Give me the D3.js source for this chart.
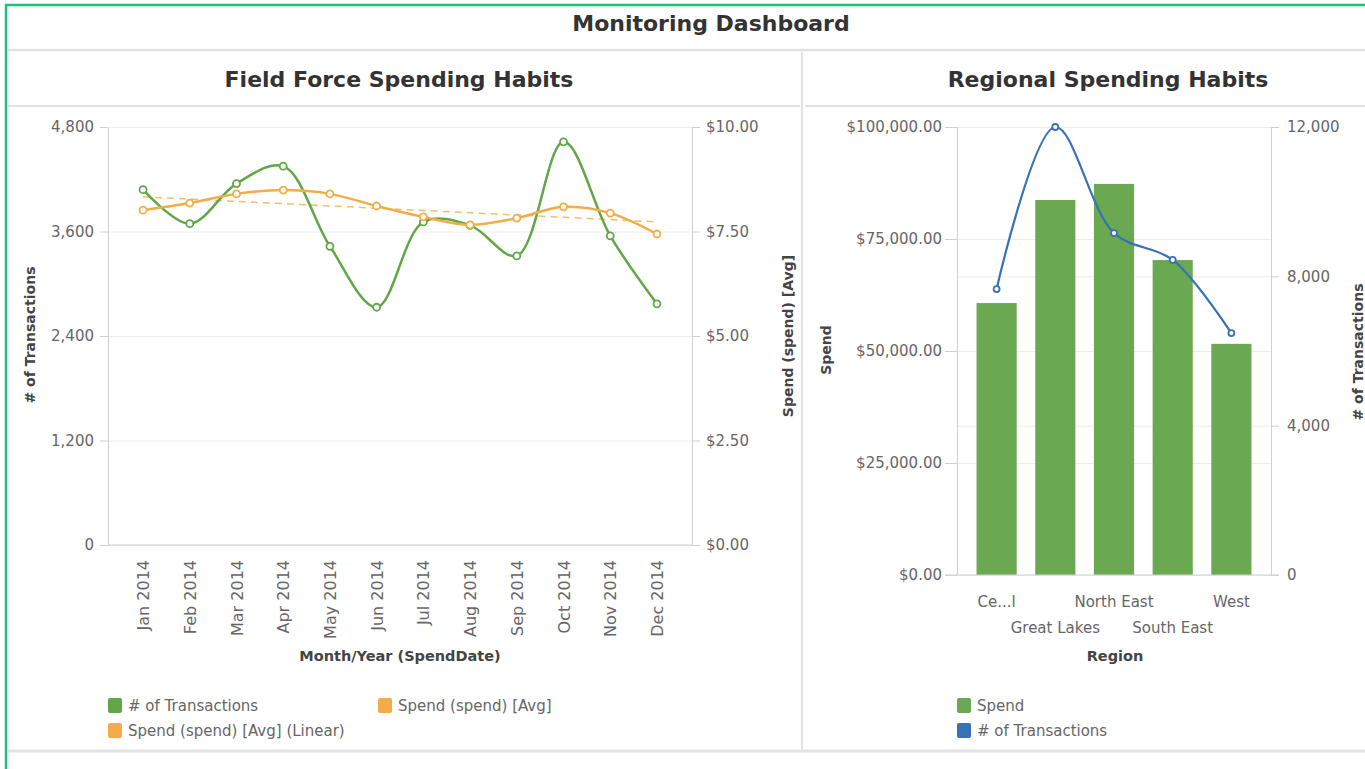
<!DOCTYPE html>
<html>
<head>
<meta charset="utf-8">
<script src="https://cdn.jsdelivr.net/npm/d3@7"></script>
<style>
body { margin: 0; background: #fff; }
text { font-family: "DejaVu Sans", sans-serif; }
.tick line { stroke: #d0d0d0; }
.domain { stroke: #d0d0d0; }
.grid line { stroke: #ececec; }
.grid .domain { display: none; }
</style>
</head>
<body>
<svg id="dash" width="1365" height="769"></svg>
<script>
// field force chart
const months = ['Jan 2014', 'Feb 2014', 'Mar 2014', 'Apr 2014', 'May 2014', 'Jun 2014',
	'Jul 2014', 'Aug 2014', 'Sep 2014', 'Oct 2014', 'Nov 2014', 'Dec 2014'];
const transactions = [4080, 3690, 4150, 4350, 3430, 2730, 3710, 3670, 3320, 4630, 3550, 2770];
const avgSpend = [8.01, 8.18, 8.40, 8.49, 8.40, 8.11, 7.85, 7.66, 7.82, 8.09, 7.94, 7.44];
const avgSpendLinear = [{ month: 'Jan 2014', value: 8.33 }, { month: 'Dec 2014', value: 7.73 }];
const txTicks = [0, 1200, 2400, 3600, 4800];
const spendTicks = [0, 2.5, 5, 7.5, 10];

// regional chart
const regions = ['Ce...l', 'Great Lakes', 'North East', 'South East', 'West'];
const regionSpend = [60700, 83700, 87300, 70300, 51600];
const regionTransactions = [7660, 12000, 9160, 8440, 6480];
const regionSpendTicks = [0, 25000, 50000, 75000, 100000];
const regionTxTicks = [0, 4000, 8000, 12000];

const GREEN = '#62a747', ORANGE = '#f2ac48', BLUE = '#3871b6', BAR = '#6aa951';

const svg = d3.select('#dash');

// frame
svg.append('rect').attr('x', 6).attr('y', 5).attr('width', 1400).attr('height', 800)
	.attr('fill', 'none').attr('stroke', '#1cc277').attr('stroke-width', 2.5);
const sep = (x1, y1, x2, y2, w) => svg.append('line')
	.attr('x1', x1).attr('y1', y1).attr('x2', x2).attr('y2', y2)
	.attr('stroke', '#e2e2e2').attr('stroke-width', w);
sep(8, 50, 1365, 50, 2.5);
sep(8, 106, 800, 106, 2);
sep(805, 106, 1365, 106, 2);
sep(802, 52, 802, 749, 2);
sep(8, 751, 1365, 751, 3);

const title = (x, y, t) => svg.append('text').attr('x', x).attr('y', y)
	.attr('text-anchor', 'middle').attr('fill', '#333').style('font-weight', 'bold')
	.style('font-size', '22px').text(t);
title(711, 31, 'Monitoring Dashboard');
title(399, 87, 'Field Force Spending Habits');
title(1108, 87, 'Regional Spending Habits');

function styleTicks(g) {
	g.selectAll('text').attr('fill', '#666').style('font-size', '15px');
}

function axisTitle(x, y, t) {
	svg.append('text').attr('transform', `translate(${x},${y}) rotate(-90)`)
		.attr('text-anchor', 'middle').attr('dy', '0.35em').attr('fill', '#444')
		.style('font-weight', 'bold').style('font-size', '14px').text(t);
}

function legend(x, y, color, t) {
	svg.append('rect').attr('x', x).attr('y', y - 8).attr('width', 14).attr('height', 15)
		.attr('rx', 2).attr('fill', color);
	svg.append('text').attr('x', x + 20).attr('y', y).attr('dy', '0.35em')
		.attr('fill', '#666').style('font-size', '15px').text(t);
}

// ---- Field Force Spending Habits ----
{
	const left = 108, right = 692, top = 127, bottom = 545;
	const x = d3.scalePoint().domain(months).range([left, right]).padding(0.75);
	const yTx = d3.scaleLinear().domain([0, 4800]).range([bottom, top]);
	const ySp = d3.scaleLinear().domain([0, 10]).range([bottom, top]);

	svg.append('g').attr('class', 'grid').attr('transform', `translate(${left},0)`)
		.call(d3.axisLeft(yTx).tickValues(txTicks).tickSize(-(right - left)).tickFormat(''));

	svg.append('g').attr('transform', `translate(${left},0)`)
		.call(d3.axisLeft(yTx).tickValues(txTicks).tickSize(8).tickSizeOuter(0).tickPadding(6)
			.tickFormat(d3.format(',')))
		.call(styleTicks);

	svg.append('g').attr('transform', `translate(${right},0)`)
		.call(d3.axisRight(ySp).tickValues(spendTicks).tickSize(8).tickSizeOuter(0).tickPadding(6)
			.tickFormat(d3.format('$.2f')))
		.call(styleTicks);

	svg.append('g').attr('transform', `translate(0,${bottom})`)
		.call(d3.axisBottom(x).tickSize(0).tickSizeOuter(0))
		.call(styleTicks)
		.call(g => g.select('.domain').attr('d', `M${left},0H${right}`))
		.selectAll('text')
		.style('font-size', '16px')
		.attr('y', 0).attr('x', -15).attr('dy', '0.35em')
		.attr('transform', 'rotate(-90)').style('text-anchor', 'end');

	axisTitle(30, 335, '# of Transactions');
	axisTitle(788, 336, 'Spend (spend) [Avg]');
	svg.append('text').attr('x', 400).attr('y', 661).attr('text-anchor', 'middle')
		.attr('fill', '#444').style('font-weight', 'bold').style('font-size', '14.5px')
		.text('Month/Year (SpendDate)');

	const curve = d3.curveCatmullRom.alpha(0.5);

	svg.append('path').datum(avgSpendLinear)
		.attr('fill', 'none').attr('stroke', ORANGE).attr('stroke-width', 1.5)
		.attr('stroke-dasharray', '7,5').attr('opacity', 0.8)
		.attr('d', d3.line().x(d => x(d.month)).y(d => ySp(d.value)));

	const series = [
		{ values: transactions, y: yTx, color: GREEN },
		{ values: avgSpend, y: ySp, color: ORANGE }
	];
	series.forEach(s => {
		svg.append('path').datum(s.values)
			.attr('fill', 'none').attr('stroke', s.color).attr('stroke-width', 2.5)
			.attr('d', d3.line().curve(curve).x((d, i) => x(months[i])).y(d => s.y(d)));
		svg.append('g').selectAll('circle').data(s.values).join('circle')
			.attr('cx', (d, i) => x(months[i])).attr('cy', d => s.y(d)).attr('r', 3.5)
			.attr('fill', '#fff').attr('stroke', s.color).attr('stroke-width', 1.8);
	});

	legend(108, 706, GREEN, '# of Transactions');
	legend(378, 706, ORANGE, 'Spend (spend) [Avg]');
	legend(108, 731, ORANGE, 'Spend (spend) [Avg] (Linear)');
}

// ---- Regional Spending Habits ----
{
	const left = 957, right = 1271, top = 127, bottom = 575;
	const x = d3.scaleBand().domain(regions).range([left, right])
		.paddingInner(0.316).paddingOuter(0.333);
	const ySp = d3.scaleLinear().domain([0, 100000]).range([bottom, top]);
	const yTx = d3.scaleLinear().domain([0, 12000]).range([bottom, top]);

	svg.append('g').attr('class', 'grid').attr('transform', `translate(${left},0)`)
		.call(d3.axisLeft(ySp).tickValues(regionSpendTicks).tickSize(-(right - left)).tickFormat(''));
	svg.append('g').attr('class', 'grid').attr('transform', `translate(${left},0)`)
		.call(d3.axisLeft(yTx).tickValues(regionTxTicks).tickSize(-(right - left)).tickFormat(''));

	svg.append('g').attr('transform', `translate(${left},0)`)
		.call(d3.axisLeft(ySp).tickValues(regionSpendTicks).tickSize(12).tickSizeOuter(0).tickPadding(3)
			.tickFormat(d3.format('$,.2f')))
		.call(styleTicks);

	svg.append('g').attr('transform', `translate(${right},0)`)
		.call(d3.axisRight(yTx).tickValues(regionTxTicks).tickSize(8).tickSizeOuter(0).tickPadding(8)
			.tickFormat(d3.format(',')))
		.call(styleTicks);

	svg.append('g').selectAll('rect').data(regionSpend).join('rect')
		.attr('x', (d, i) => x(regions[i])).attr('width', x.bandwidth())
		.attr('y', d => ySp(d)).attr('height', d => bottom - ySp(d))
		.attr('fill', BAR);

	svg.append('g').attr('transform', `translate(0,${bottom})`)
		.call(d3.axisBottom(x).tickSize(0).tickSizeOuter(0))
		.call(styleTicks)
		.call(g => g.select('.domain').attr('d', `M${left - 12},0H${right + 8}`))
		.selectAll('text')
		.attr('y', (d, i) => i % 2 ? 47 : 21);

	const cx = i => x(regions[i]) + x.bandwidth() / 2;
	svg.append('path').datum(regionTransactions)
		.attr('fill', 'none').attr('stroke', BLUE).attr('stroke-width', 2.2)
		.attr('d', d3.line().curve(d3.curveCatmullRom.alpha(0.5)).x((d, i) => cx(i)).y(d => yTx(d)));
	svg.append('g').selectAll('circle').data(regionTransactions).join('circle')
		.attr('cx', (d, i) => cx(i)).attr('cy', d => yTx(d)).attr('r', 3)
		.attr('fill', '#fff').attr('stroke', BLUE).attr('stroke-width', 1.8);

	axisTitle(826, 350, 'Spend');
	axisTitle(1358, 352, '# of Transactions');
	svg.append('text').attr('x', 1115).attr('y', 661).attr('text-anchor', 'middle')
		.attr('fill', '#444').style('font-weight', 'bold').style('font-size', '14.5px')
		.text('Region');

	legend(957, 706, BAR, 'Spend');
	legend(957, 731, BLUE, '# of Transactions');
}
</script>
</body>
</html>
